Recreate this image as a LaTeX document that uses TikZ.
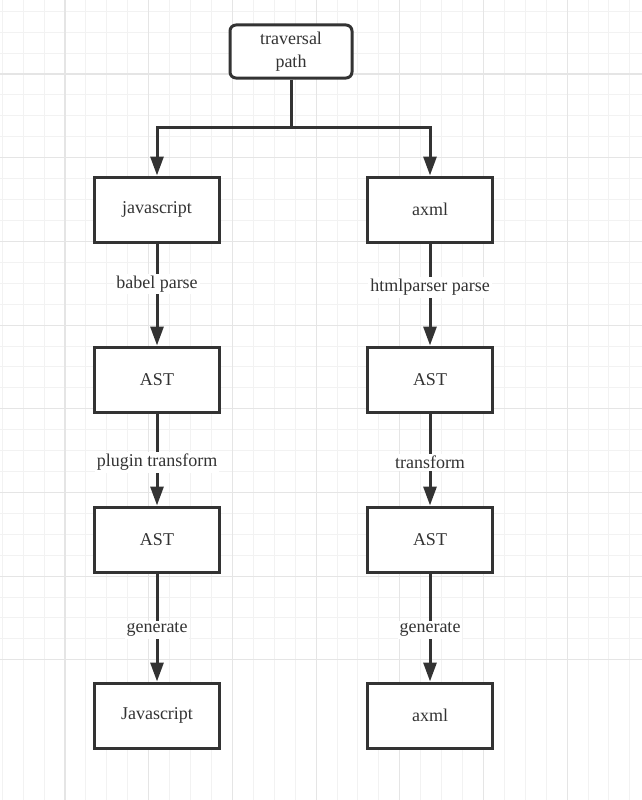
\documentclass[tikz,border=0pt]{standalone}
\usepackage{fontspec}
\setmainfont{Liberation Serif}
\usetikzlibrary{arrows.meta}
\definecolor{ink}{HTML}{333333}
\begin{document}
\begin{tikzpicture}[
		x=1pt, y=-1pt,
		minorline/.style={draw=black!5, line width=1pt},
		majorline/.style={draw=black!10, line width=1.2pt},
		box/.style={draw=ink, line width=3pt, fill=white, minimum width=125pt, minimum height=65pt,
			font=\fontsize{18}{23}\selectfont, text=ink},
		topbox/.style={box, rounded corners=6pt, minimum width=122pt, minimum height=53pt, align=center},
		arr/.style={draw=ink, line width=3pt, -{Triangle[length=19pt,width=13pt]}},
		lbl/.style={fill=white, inner sep=2pt, font=\fontsize{18}{23}\selectfont, text=ink}
	]
	\fill[white] (0,0) rectangle (642,800);
	\useasboundingbox (0,0) rectangle (642,800);
	% grid
	\foreach \i in {0,...,30} {
		\draw[minorline] ({2.3+20.92*\i},0) -- ++(0,800);
		\draw[minorline] (0,{11.3+20.92*\i}) -- ++(642,0);
	}
	\foreach \i in {3,7,...,31} {
		\draw[majorline] ({2.3+20.92*\i},0) -- ++(0,800);
		\draw[majorline] (0,{11.3+20.92*\i}) -- ++(642,0);
	}

	\node[topbox] (trav) at (291,51.5) {traversal\\path};
	\coordinate (split) at (291,127);

	% left column
	\node[box] (js) at (157,209.5) {javascript};
	\node[box] (jsast) at (157,379.5) {AST};
	\node[box] (jsast2) at (157,539.5) {AST};
	\node[box] (jsout) at (157,715.5) {Javascript};

	% right column
	\node[box] (xml) at (430,209.5) {axml};
	\node[box] (xmlast) at (430,379.5) {AST};
	\node[box] (xmlast2) at (430,539.5) {AST};
	\node[box] (xmlout) at (430,715.5) {axml};

	\draw[draw=ink, line width=3pt] (trav.south) -- (split);
	\draw[arr] (split) -| (js.north);
	\draw[arr] (split) -| (xml.north);

	\draw[arr] (js) -- node[lbl, pos=0.4] {babel parse} (jsast);
	\draw[arr] (jsast) -- node[lbl, pos=0.53] {plugin transform} (jsast2);
	\draw[arr] (jsast2) -- node[lbl, pos=0.52] {generate} (jsout);

	\draw[arr] (xml) -- node[lbl, pos=0.43] {htmlparser parse} (xmlast);
	\draw[arr] (xmlast) -- node[lbl, pos=0.53] {transform} (xmlast2);
	\draw[arr] (xmlast2) -- node[lbl, pos=0.52] {generate} (xmlout);
\end{tikzpicture}
\end{document}
